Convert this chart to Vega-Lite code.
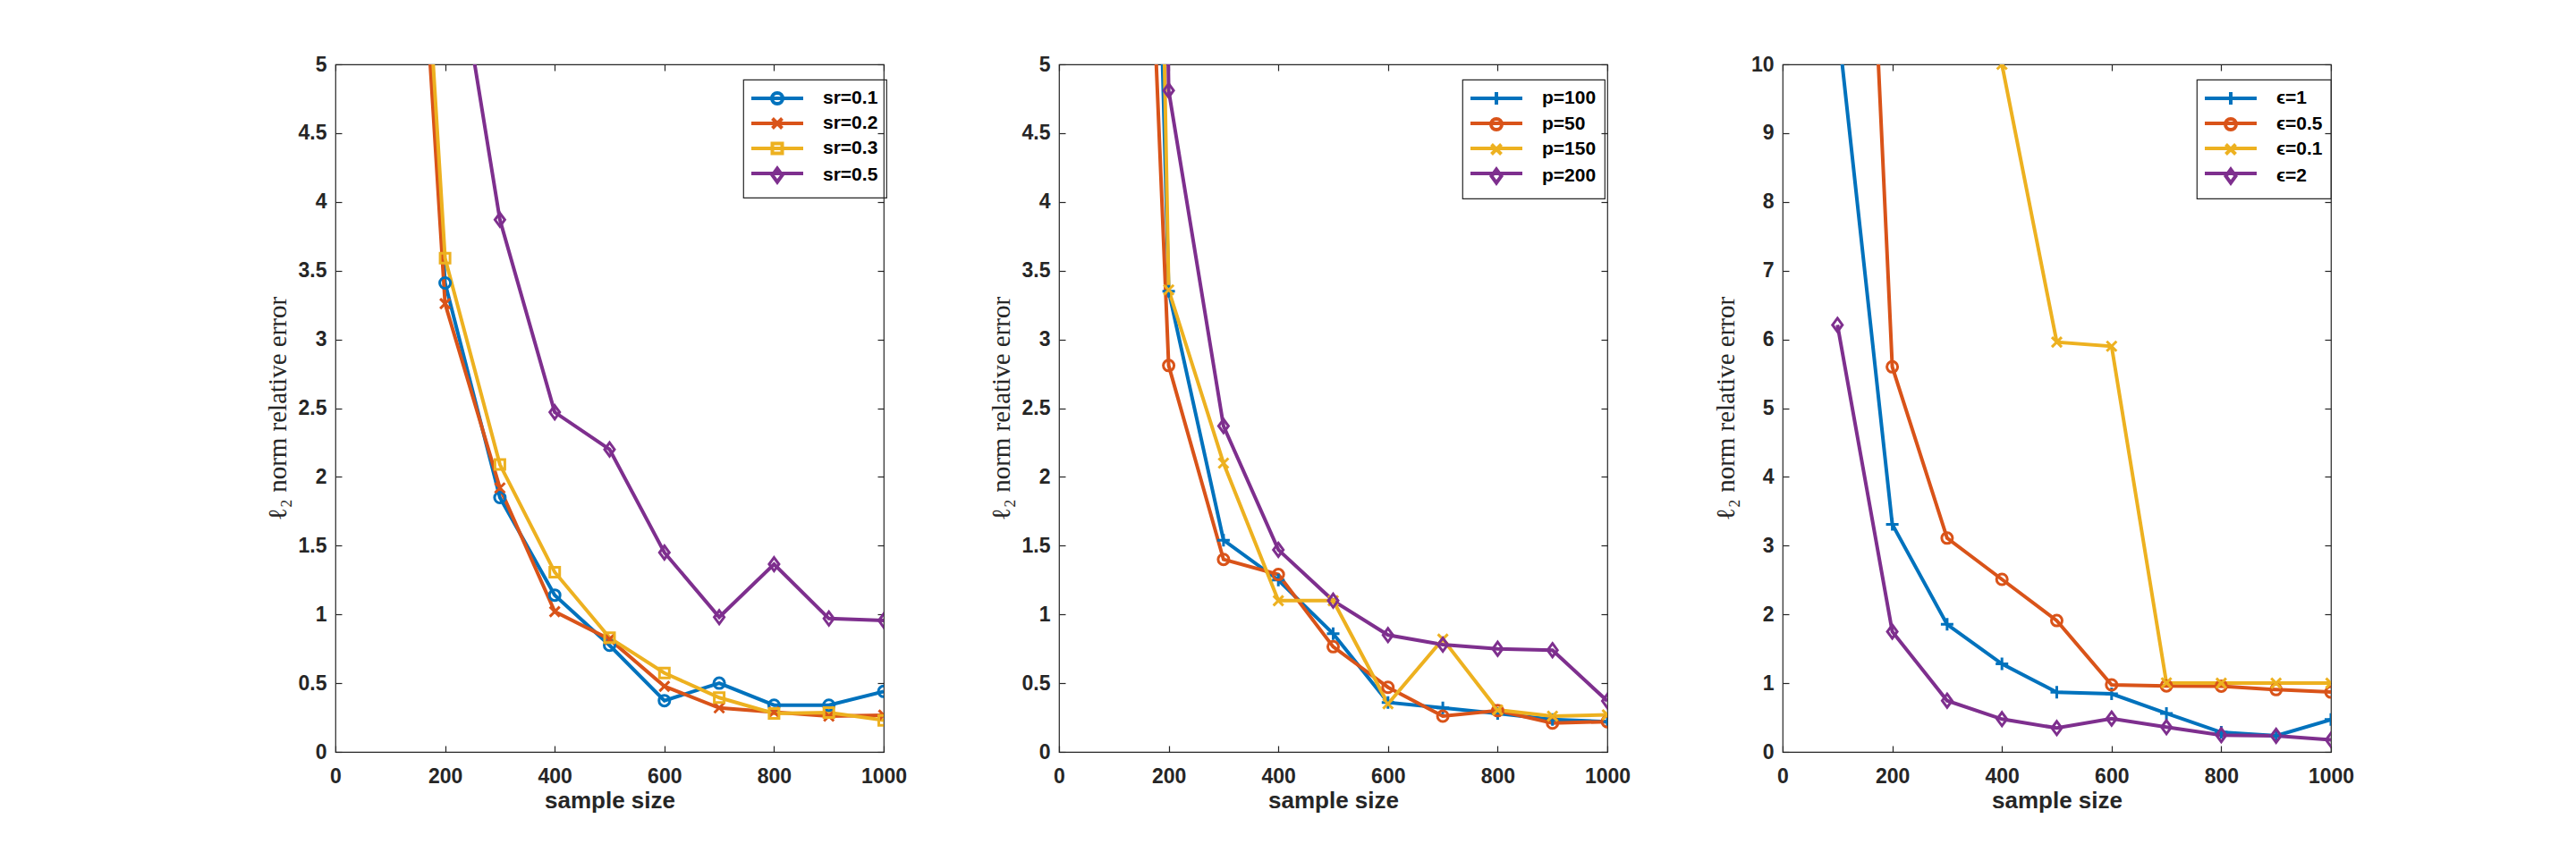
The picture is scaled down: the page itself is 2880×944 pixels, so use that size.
{
  "$schema": "https://vega.github.io/schema/vega-lite/v6.json",
  "background": "white",
  "padding": {"left": 295, "top": 60, "right": 10, "bottom": 10},
  "datasets": {
    "left": [
      {"n": 100, "err": 9.9, "s": "sr=0.1"}, {"n": 200, "err": 3.41, "s": "sr=0.1"}, {"n": 300, "err": 1.85, "s": "sr=0.1"}, {"n": 400, "err": 1.14, "s": "sr=0.1"}, {"n": 500, "err": 0.775, "s": "sr=0.1"}, {"n": 600, "err": 0.373, "s": "sr=0.1"}, {"n": 700, "err": 0.5, "s": "sr=0.1"}, {"n": 800, "err": 0.34, "s": "sr=0.1"}, {"n": 900, "err": 0.34, "s": "sr=0.1"}, {"n": 1000, "err": 0.44, "s": "sr=0.1"},
      {"n": 100, "err": 9.7, "s": "sr=0.2"}, {"n": 200, "err": 3.26, "s": "sr=0.2"}, {"n": 300, "err": 1.92, "s": "sr=0.2"}, {"n": 400, "err": 1.02, "s": "sr=0.2"}, {"n": 500, "err": 0.82, "s": "sr=0.2"}, {"n": 600, "err": 0.477, "s": "sr=0.2"}, {"n": 700, "err": 0.32, "s": "sr=0.2"}, {"n": 800, "err": 0.29, "s": "sr=0.2"}, {"n": 900, "err": 0.26, "s": "sr=0.2"}, {"n": 1000, "err": 0.267, "s": "sr=0.2"},
      {"n": 100, "err": 10.1, "s": "sr=0.3"}, {"n": 200, "err": 3.59, "s": "sr=0.3"}, {"n": 300, "err": 2.09, "s": "sr=0.3"}, {"n": 400, "err": 1.307, "s": "sr=0.3"}, {"n": 500, "err": 0.83, "s": "sr=0.3"}, {"n": 600, "err": 0.574, "s": "sr=0.3"}, {"n": 700, "err": 0.395, "s": "sr=0.3"}, {"n": 800, "err": 0.28, "s": "sr=0.3"}, {"n": 900, "err": 0.286, "s": "sr=0.3"}, {"n": 1000, "err": 0.23, "s": "sr=0.3"},
      {"n": 100, "err": 12.0, "s": "sr=0.5"}, {"n": 200, "err": 6.33, "s": "sr=0.5"}, {"n": 300, "err": 3.87, "s": "sr=0.5"}, {"n": 400, "err": 2.47, "s": "sr=0.5"}, {"n": 500, "err": 2.2, "s": "sr=0.5"}, {"n": 600, "err": 1.45, "s": "sr=0.5"}, {"n": 700, "err": 0.98, "s": "sr=0.5"}, {"n": 800, "err": 1.365, "s": "sr=0.5"}, {"n": 900, "err": 0.97, "s": "sr=0.5"}, {"n": 1000, "err": 0.955, "s": "sr=0.5"}
    ],
    "middle": [
      {"n": 100, "err": 18.1, "s": "p=100"}, {"n": 200, "err": 3.35, "s": "p=100"}, {"n": 300, "err": 1.54, "s": "p=100"}, {"n": 400, "err": 1.25, "s": "p=100"}, {"n": 500, "err": 0.86, "s": "p=100"}, {"n": 600, "err": 0.36, "s": "p=100"}, {"n": 700, "err": 0.32, "s": "p=100"}, {"n": 800, "err": 0.28, "s": "p=100"}, {"n": 900, "err": 0.235, "s": "p=100"}, {"n": 1000, "err": 0.22, "s": "p=100"},
      {"n": 100, "err": 12.5, "s": "p=50"}, {"n": 200, "err": 2.81, "s": "p=50"}, {"n": 300, "err": 1.4, "s": "p=50"}, {"n": 400, "err": 1.29, "s": "p=50"}, {"n": 500, "err": 0.765, "s": "p=50"}, {"n": 600, "err": 0.47, "s": "p=50"}, {"n": 700, "err": 0.26, "s": "p=50"}, {"n": 800, "err": 0.3, "s": "p=50"}, {"n": 900, "err": 0.21, "s": "p=50"}, {"n": 1000, "err": 0.22, "s": "p=50"},
      {"n": 100, "err": 24.9, "s": "p=150"}, {"n": 200, "err": 3.36, "s": "p=150"}, {"n": 300, "err": 2.1, "s": "p=150"}, {"n": 400, "err": 1.1, "s": "p=150"}, {"n": 500, "err": 1.1, "s": "p=150"}, {"n": 600, "err": 0.35, "s": "p=150"}, {"n": 700, "err": 0.82, "s": "p=150"}, {"n": 800, "err": 0.305, "s": "p=150"}, {"n": 900, "err": 0.26, "s": "p=150"}, {"n": 1000, "err": 0.27, "s": "p=150"},
      {"n": 100, "err": 30.0, "s": "p=200"}, {"n": 200, "err": 4.81, "s": "p=200"}, {"n": 300, "err": 2.37, "s": "p=200"}, {"n": 400, "err": 1.47, "s": "p=200"}, {"n": 500, "err": 1.1, "s": "p=200"}, {"n": 600, "err": 0.85, "s": "p=200"}, {"n": 700, "err": 0.78, "s": "p=200"}, {"n": 800, "err": 0.75, "s": "p=200"}, {"n": 900, "err": 0.74, "s": "p=200"}, {"n": 1000, "err": 0.37, "s": "p=200"}
    ],
    "right": [
      {"n": 100, "err": 10.64, "s": "ϵ=1"}, {"n": 200, "err": 3.31, "s": "ϵ=1"}, {"n": 300, "err": 1.855, "s": "ϵ=1"}, {"n": 400, "err": 1.28, "s": "ϵ=1"}, {"n": 500, "err": 0.867, "s": "ϵ=1"}, {"n": 600, "err": 0.845, "s": "ϵ=1"}, {"n": 700, "err": 0.56, "s": "ϵ=1"}, {"n": 800, "err": 0.285, "s": "ϵ=1"}, {"n": 900, "err": 0.235, "s": "ϵ=1"}, {"n": 1000, "err": 0.47, "s": "ϵ=1"},
      {"n": 100, "err": 23.0, "s": "ϵ=0.5"}, {"n": 200, "err": 5.6, "s": "ϵ=0.5"}, {"n": 300, "err": 3.11, "s": "ϵ=0.5"}, {"n": 400, "err": 2.51, "s": "ϵ=0.5"}, {"n": 500, "err": 1.91, "s": "ϵ=0.5"}, {"n": 600, "err": 0.975, "s": "ϵ=0.5"}, {"n": 700, "err": 0.96, "s": "ϵ=0.5"}, {"n": 800, "err": 0.957, "s": "ϵ=0.5"}, {"n": 900, "err": 0.906, "s": "ϵ=0.5"}, {"n": 1000, "err": 0.87, "s": "ϵ=0.5"},
      {"n": 100, "err": 20.0, "s": "ϵ=0.1"}, {"n": 200, "err": 16.0, "s": "ϵ=0.1"}, {"n": 300, "err": 13.0, "s": "ϵ=0.1"}, {"n": 400, "err": 10.0, "s": "ϵ=0.1"}, {"n": 500, "err": 5.96, "s": "ϵ=0.1"}, {"n": 600, "err": 5.9, "s": "ϵ=0.1"}, {"n": 700, "err": 1.005, "s": "ϵ=0.1"}, {"n": 800, "err": 1.0, "s": "ϵ=0.1"}, {"n": 900, "err": 1.0, "s": "ϵ=0.1"}, {"n": 1000, "err": 1.0, "s": "ϵ=0.1"},
      {"n": 100, "err": 6.21, "s": "ϵ=2"}, {"n": 200, "err": 1.75, "s": "ϵ=2"}, {"n": 300, "err": 0.745, "s": "ϵ=2"}, {"n": 400, "err": 0.477, "s": "ϵ=2"}, {"n": 500, "err": 0.347, "s": "ϵ=2"}, {"n": 600, "err": 0.485, "s": "ϵ=2"}, {"n": 700, "err": 0.36, "s": "ϵ=2"}, {"n": 800, "err": 0.245, "s": "ϵ=2"}, {"n": 900, "err": 0.235, "s": "ϵ=2"}, {"n": 1000, "err": 0.175, "s": "ϵ=2"}
    ]
  },
  "spacing": 196,
  "bounds": "flush",
  "resolve": {"scale": {"color": "independent", "shape": "independent", "stroke": "independent"}, "legend": {"color": "independent", "shape": "independent", "stroke": "independent"}},
  "hconcat": [
    {
      "width": 613, "height": 769,
      "data": {"name": "left"},
      "layer": [
        {
          "mark": {"type": "line", "strokeWidth": 4, "clip": true},
          "encoding": {
            "x": {"field": "n", "type": "quantitative", "scale": {"domain": [0, 1000], "nice": false}, "axis": {"orient": "bottom", "values": [0, 200, 400, 600, 800, 1000], "labelExpr": "'' + datum.value", "title": "sample size"}},
            "y": {"field": "err", "type": "quantitative", "scale": {"domain": [0, 5], "nice": false}, "axis": {"orient": "left", "values": [0, 0.5, 1, 1.5, 2, 2.5, 3, 3.5, 4, 4.5, 5], "labelExpr": "'' + datum.value", "title": "ℓ₂ norm relative error"}},
            "stroke": {"field": "s", "type": "nominal", "sort": ["sr=0.1", "sr=0.2", "sr=0.3", "sr=0.5"], "scale": {"range": ["#0072BD", "#D95319", "#EDB120", "#7E2F8E"]}, "legend": {"title": null, "orient": "none", "legendX": 456, "legendY": 17, "symbolType": "M-2.9,0H2.9", "labelExpr": "' '", "labelOpacity": 0, "rowPadding": 6, "strokeColor": "transparent", "fillColor": "transparent"}}
          }
        },
        {
          "mark": {"type": "point", "filled": false, "size": 400, "strokeWidth": 3, "opacity": 1, "clip": true},
          "encoding": {
            "x": {"field": "n", "type": "quantitative", "scale": {"domain": [0, 1000], "nice": false}, "axis": {"orient": "top", "values": [0, 200, 400, 600, 800, 1000], "labels": false, "title": null}},
            "y": {"field": "err", "type": "quantitative", "scale": {"domain": [0, 5], "nice": false}, "axis": {"orient": "right", "values": [0, 0.5, 1, 1.5, 2, 2.5, 3, 3.5, 4, 4.5, 5], "labels": false, "title": null}},
            "color": {"field": "s", "type": "nominal", "scale": {"domain": ["sr=0.1", "sr=0.2", "sr=0.3", "sr=0.5"], "range": ["#0072BD", "#D95319", "#EDB120", "#7E2F8E"]}, "legend": {"title": null, "orient": "none", "legendX": 456, "legendY": 17, "rowPadding": 0}},
            "shape": {"field": "s", "type": "nominal", "scale": {"domain": ["sr=0.1", "sr=0.2", "sr=0.3", "sr=0.5"], "range": ["M-0.6,0A0.6,0.6,0,1,0,0.6,0A0.6,0.6,0,1,0,-0.6,0", "M-0.55,-0.55L0.55,0.55M-0.55,0.55L0.55,-0.55", "M-0.55,-0.55H0.55V0.55H-0.55Z", "M0,-0.75L0.55,0L0,0.75L-0.55,0Z"]}, "legend": {"title": null, "orient": "none", "legendX": 456, "legendY": 17, "rowPadding": 0}}
          }
        }
      ]
    },
    {
      "width": 613, "height": 769,
      "data": {"name": "middle"},
      "layer": [
        {
          "mark": {"type": "line", "strokeWidth": 4, "clip": true},
          "encoding": {
            "x": {"field": "n", "type": "quantitative", "scale": {"domain": [0, 1000], "nice": false}, "axis": {"orient": "bottom", "values": [0, 200, 400, 600, 800, 1000], "labelExpr": "'' + datum.value", "title": "sample size"}},
            "y": {"field": "err", "type": "quantitative", "scale": {"domain": [0, 5], "nice": false}, "axis": {"orient": "left", "values": [0, 0.5, 1, 1.5, 2, 2.5, 3, 3.5, 4, 4.5, 5], "labelExpr": "'' + datum.value", "title": "ℓ₂ norm relative error"}},
            "stroke": {"field": "s", "type": "nominal", "sort": ["p=100", "p=50", "p=150", "p=200"], "scale": {"range": ["#0072BD", "#D95319", "#EDB120", "#7E2F8E"]}, "legend": {"title": null, "orient": "none", "legendX": 451, "legendY": 17, "symbolType": "M-2.9,0H2.9", "labelExpr": "' '", "labelOpacity": 0, "rowPadding": 6, "strokeColor": "transparent", "fillColor": "transparent"}}
          }
        },
        {
          "mark": {"type": "point", "filled": false, "size": 400, "strokeWidth": 3, "opacity": 1, "clip": true},
          "encoding": {
            "x": {"field": "n", "type": "quantitative", "scale": {"domain": [0, 1000], "nice": false}, "axis": {"orient": "top", "values": [0, 200, 400, 600, 800, 1000], "labels": false, "title": null}},
            "y": {"field": "err", "type": "quantitative", "scale": {"domain": [0, 5], "nice": false}, "axis": {"orient": "right", "values": [0, 0.5, 1, 1.5, 2, 2.5, 3, 3.5, 4, 4.5, 5], "labels": false, "title": null}},
            "color": {"field": "s", "type": "nominal", "scale": {"domain": ["p=100", "p=50", "p=150", "p=200"], "range": ["#0072BD", "#D95319", "#EDB120", "#7E2F8E"]}, "legend": {"title": null, "orient": "none", "legendX": 451, "legendY": 17, "rowPadding": 0}},
            "shape": {"field": "s", "type": "nominal", "scale": {"domain": ["p=100", "p=50", "p=150", "p=200"], "range": ["M-0.7,0H0.7M0,-0.7V0.7", "M-0.6,0A0.6,0.6,0,1,0,0.6,0A0.6,0.6,0,1,0,-0.6,0", "M-0.55,-0.55L0.55,0.55M-0.55,0.55L0.55,-0.55", "M0,-0.75L0.55,0L0,0.75L-0.55,0Z"]}, "legend": {"title": null, "orient": "none", "legendX": 451, "legendY": 17, "rowPadding": 0}}
          }
        }
      ]
    },
    {
      "width": 613, "height": 769,
      "data": {"name": "right"},
      "layer": [
        {
          "mark": {"type": "line", "strokeWidth": 4, "clip": true},
          "encoding": {
            "x": {"field": "n", "type": "quantitative", "scale": {"domain": [0, 1000], "nice": false}, "axis": {"orient": "bottom", "values": [0, 200, 400, 600, 800, 1000], "labelExpr": "'' + datum.value", "title": "sample size"}},
            "y": {"field": "err", "type": "quantitative", "scale": {"domain": [0, 10], "nice": false}, "axis": {"orient": "left", "values": [0, 1, 2, 3, 4, 5, 6, 7, 8, 9, 10], "labelExpr": "'' + datum.value", "title": "ℓ₂ norm relative error", "titlePadding": 13}},
            "stroke": {"field": "s", "type": "nominal", "sort": ["ϵ=1", "ϵ=0.5", "ϵ=0.1", "ϵ=2"], "scale": {"range": ["#0072BD", "#D95319", "#EDB120", "#7E2F8E"]}, "legend": {"title": null, "orient": "none", "legendX": 463, "legendY": 17, "symbolType": "M-2.9,0H2.9", "labelExpr": "' '", "labelOpacity": 0, "rowPadding": 6, "strokeColor": "transparent", "fillColor": "transparent"}}
          }
        },
        {
          "mark": {"type": "point", "filled": false, "size": 400, "strokeWidth": 3, "opacity": 1, "clip": true},
          "encoding": {
            "x": {"field": "n", "type": "quantitative", "scale": {"domain": [0, 1000], "nice": false}, "axis": {"orient": "top", "values": [0, 200, 400, 600, 800, 1000], "labels": false, "title": null}},
            "y": {"field": "err", "type": "quantitative", "scale": {"domain": [0, 10], "nice": false}, "axis": {"orient": "right", "values": [0, 1, 2, 3, 4, 5, 6, 7, 8, 9, 10], "labels": false, "title": null}},
            "color": {"field": "s", "type": "nominal", "scale": {"domain": ["ϵ=1", "ϵ=0.5", "ϵ=0.1", "ϵ=2"], "range": ["#0072BD", "#D95319", "#EDB120", "#7E2F8E"]}, "legend": {"title": null, "orient": "none", "legendX": 463, "legendY": 17, "rowPadding": 0}},
            "shape": {"field": "s", "type": "nominal", "scale": {"domain": ["ϵ=1", "ϵ=0.5", "ϵ=0.1", "ϵ=2"], "range": ["M-0.7,0H0.7M0,-0.7V0.7", "M-0.6,0A0.6,0.6,0,1,0,0.6,0A0.6,0.6,0,1,0,-0.6,0", "M-0.55,-0.55L0.55,0.55M-0.55,0.55L0.55,-0.55", "M0,-0.75L0.55,0L0,0.75L-0.55,0Z"]}, "legend": {"title": null, "orient": "none", "legendX": 463, "legendY": 17, "rowPadding": 0}}
          }
        }
      ]
    }
  ],
  "config": {
    "view": {"stroke": "#262626", "strokeWidth": 1.2},
    "font": "Liberation Sans",
    "axis": {"domain": false, "grid": false, "tickSize": -7, "tickColor": "#262626", "tickWidth": 1.2, "labelFont": "Liberation Sans", "labelFontWeight": "bold", "labelFontSize": 23, "labelColor": "#262626", "titleColor": "#262626", "labelOverlap": false, "labelBound": false, "labelFlush": false},
    "axisX": {"labelPadding": 23, "titleFont": "Liberation Sans", "titleFontWeight": "bold", "titleFontSize": 26, "titlePadding": 2},
    "axisY": {"labelPadding": 17, "titleFont": "Liberation Serif", "titleFontWeight": "normal", "titleFontSize": 29, "titlePadding": 8},
    "legend": {"padding": 9, "strokeColor": "#262626", "strokeWidth": 1.2, "fillColor": "transparent", "cornerRadius": 0, "labelFont": "Liberation Sans", "labelFontWeight": "bold", "labelFontSize": 21, "labelColor": "#000000", "rowPadding": 6, "symbolSize": 400, "symbolStrokeWidth": 4, "symbolOpacity": 1, "symbolOffset": 17, "labelOffset": 39}
  }
}
